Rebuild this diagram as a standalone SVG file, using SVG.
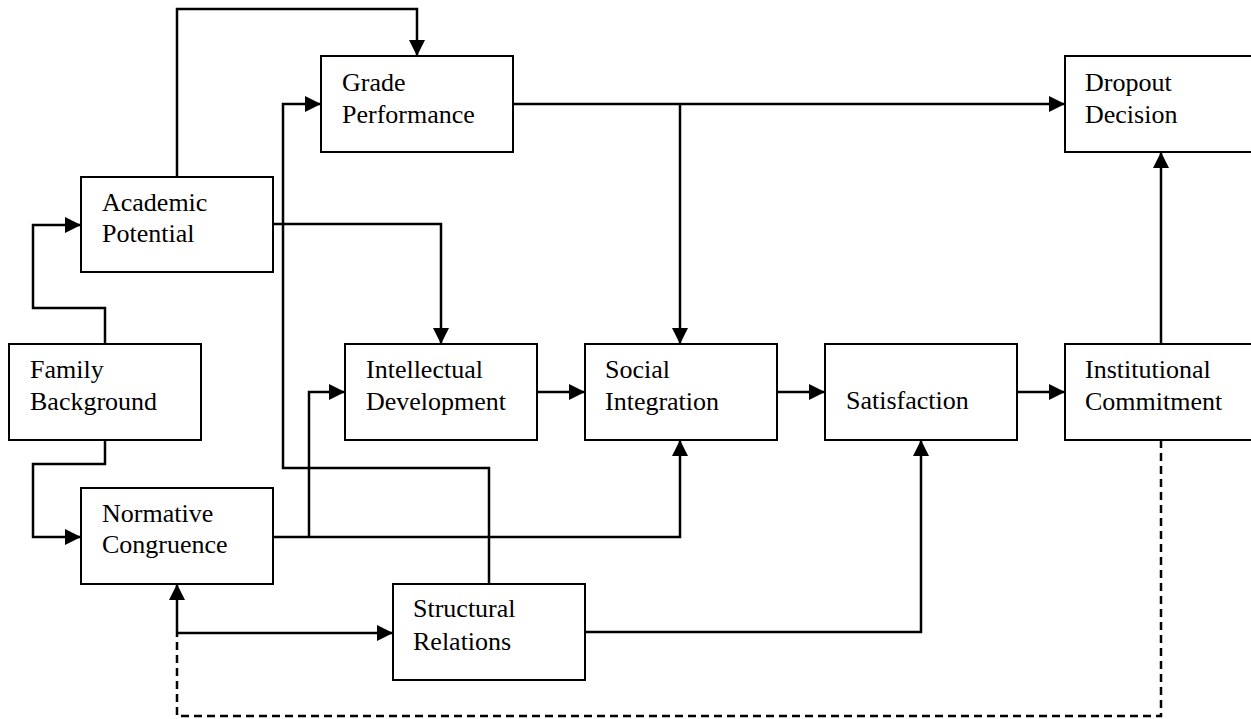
<svg xmlns="http://www.w3.org/2000/svg" width="1251" height="719" viewBox="0 0 1251 719">
  <style>
    .box { fill: #fff; stroke: #000; stroke-width: 2; }
    .lbl { font-family: "Liberation Serif", "Times New Roman", serif; font-size: 26px; fill: #000; }
    .edge { fill: none; stroke: #000; stroke-width: 2.5; }
    .dash { fill: none; stroke: #000; stroke-width: 2.5; stroke-dasharray: 8 5; }
  </style>
  <defs>
    <marker id="arrow" viewBox="0 0 16 16" refX="16" refY="8" markerWidth="16" markerHeight="16" markerUnits="userSpaceOnUse" orient="auto">
      <path d="M0,0 L16,8 L0,16 Z" fill="#000"/>
    </marker>
  </defs>
  <rect width="1251" height="719" fill="#fff"/>

  <g id="connectors">
    <!-- Academic Potential -> Grade Performance (over the top) -->
    <path class="edge" d="M177,177 V9 H417 V56" marker-end="url(#arrow)"/>
    <!-- Family Background -> Academic Potential -->
    <path class="edge" d="M105,344 V308 H33 V225 H81" marker-end="url(#arrow)"/>
    <!-- Family Background -> Normative Congruence -->
    <path class="edge" d="M105,440 V464 H33 V537 H81" marker-end="url(#arrow)"/>
    <!-- Academic Potential -> Intellectual Development -->
    <path class="edge" d="M273,224 H441 V344" marker-end="url(#arrow)"/>
    <!-- Grade Performance -> Dropout Decision -->
    <path class="edge" d="M513,104 H1065" marker-end="url(#arrow)"/>
    <!-- Grade Performance -> Social Integration -->
    <path class="edge" d="M680,104 V344" marker-end="url(#arrow)"/>
    <!-- Normative Congruence -> Social Integration -->
    <path class="edge" d="M273,537 H680 V440" marker-end="url(#arrow)"/>
    <!-- Normative Congruence -> Intellectual Development -->
    <path class="edge" d="M309,537 V392 H345" marker-end="url(#arrow)"/>
    <!-- Structural Relations -> Grade Performance -->
    <path class="edge" d="M489,584 V468 H283 V104 H321" marker-end="url(#arrow)"/>
    <!-- main chain -->
    <path class="edge" d="M537,392 H585" marker-end="url(#arrow)"/>
    <path class="edge" d="M777,392 H825" marker-end="url(#arrow)"/>
    <path class="edge" d="M1017,392 H1065" marker-end="url(#arrow)"/>
    <!-- Institutional Commitment -> Dropout Decision -->
    <path class="edge" d="M1161,344 V152" marker-end="url(#arrow)"/>
    <!-- Normative Congruence <-> Structural Relations -->
    <path class="edge" d="M177,633 V584" marker-end="url(#arrow)"/>
    <path class="edge" d="M177,633 H393" marker-end="url(#arrow)"/>
    <!-- Structural Relations -> Satisfaction -->
    <path class="edge" d="M585,632 H921 V440" marker-end="url(#arrow)"/>
    <!-- feedback loop -->
    <path class="dash" d="M1161,440 V716 H177 V633"/>
  </g>

  <g id="grade-performance">
    <rect class="box" x="321" y="56" width="192" height="96"/>
    <text class="lbl" x="342" y="91">Grade</text>
    <text class="lbl" x="342" y="123">Performance</text>
  </g>
  <g id="dropout-decision">
    <rect class="box" x="1065" y="56" width="200" height="96"/>
    <text class="lbl" x="1085" y="91">Dropout</text>
    <text class="lbl" x="1085" y="123">Decision</text>
  </g>
  <g id="academic-potential">
    <rect class="box" x="81" y="177" width="192" height="95"/>
    <text class="lbl" x="102" y="211">Academic</text>
    <text class="lbl" x="102" y="242">Potential</text>
  </g>
  <g id="family-background">
    <rect class="box" x="9" y="344" width="192" height="96"/>
    <text class="lbl" x="30" y="378">Family</text>
    <text class="lbl" x="30" y="410">Background</text>
  </g>
  <g id="intellectual-development">
    <rect class="box" x="345" y="344" width="192" height="96"/>
    <text class="lbl" x="366" y="378">Intellectual</text>
    <text class="lbl" x="366" y="410">Development</text>
  </g>
  <g id="social-integration">
    <rect class="box" x="585" y="344" width="192" height="96"/>
    <text class="lbl" x="605" y="378">Social</text>
    <text class="lbl" x="605" y="410">Integration</text>
  </g>
  <g id="satisfaction">
    <rect class="box" x="825" y="344" width="192" height="96"/>
    <text class="lbl" x="846" y="409">Satisfaction</text>
  </g>
  <g id="institutional-commitment">
    <rect class="box" x="1065" y="344" width="200" height="96"/>
    <text class="lbl" x="1085" y="378">Institutional</text>
    <text class="lbl" x="1085" y="410">Commitment</text>
  </g>
  <g id="normative-congruence">
    <rect class="box" x="81" y="488" width="192" height="96"/>
    <text class="lbl" x="102" y="522">Normative</text>
    <text class="lbl" x="102" y="553">Congruence</text>
  </g>
  <g id="structural-relations">
    <rect class="box" x="393" y="584" width="192" height="96"/>
    <text class="lbl" x="413" y="617">Structural</text>
    <text class="lbl" x="413" y="650">Relations</text>
  </g>
</svg>
